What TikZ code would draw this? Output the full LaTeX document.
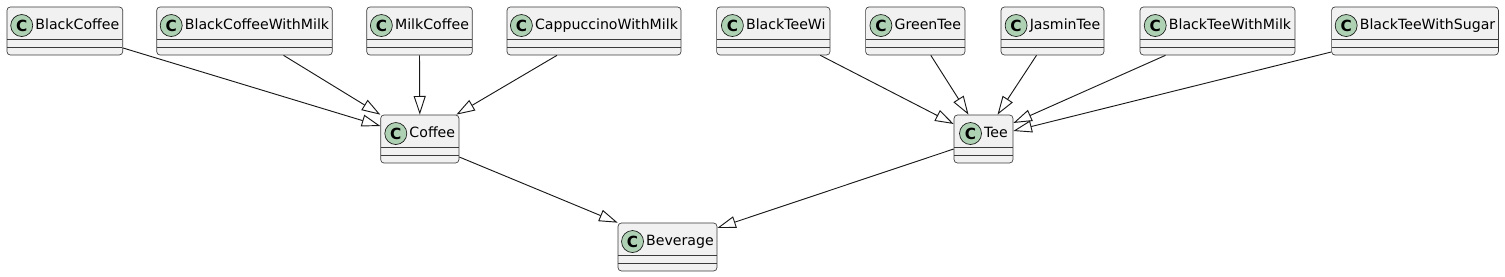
\documentclass[tikz,border=0pt]{standalone}
\usepackage{fontspec}
\setmainfont{DejaVu Sans}
\usetikzlibrary{arrows.meta,calc}
\definecolor{Ink}{HTML}{181818}
\definecolor{ClassFill}{HTML}{F1F1F1}
\definecolor{MarkGreen}{HTML}{ADD1B2}
\newcommand{\classmark}{\tikz[baseline={([yshift=-3pt]mark.center)}]\node[classmarker] (mark) {C};}
\tikzset{
  classmarker/.style={circle, draw=Ink, line width=0.5pt, fill=MarkGreen, inner sep=0pt, minimum size=16.5pt, font=\fontsize{11.5pt}{12pt}\selectfont\bfseries},
  classbox/.style={draw=Ink!85, line width=0.5pt, rounded corners=2.5pt, fill=ClassFill, inner xsep=0pt, inner ysep=0pt,
    text height=16.9pt, text depth=19.1pt, font=\fontsize{10.6pt}{12pt}\selectfont,
    path picture={
      \draw[Ink!85, line width=0.5pt] ([yshift=11.8pt]path picture bounding box.south west) -- ([yshift=11.8pt]path picture bounding box.south east);
      \draw[Ink!85, line width=0.5pt] ([yshift=5.9pt]path picture bounding box.south west) -- ([yshift=5.9pt]path picture bounding box.south east);
    }},
  extends/.style={-{Triangle[open, length=14pt, width=9pt]}, draw=Ink, line width=0.7pt}
}
\begin{document}
\begin{tikzpicture}[x=0.75pt, y=-0.75pt]
  \useasboundingbox (0,0) rectangle (1505,277);

  % coffee side
  \node[classbox, minimum width=86.8pt] (blackcoffee) at (64.85,31) {\classmark\,BlackCoffee};
  \node[classbox, minimum width=131.7pt] (blackcoffeemilk) at (244.5,31) {\classmark\,BlackCoffeeWithMilk};
  \node[classbox, minimum width=79.2pt] (milkcoffee) at (419.5,31) {\classmark\,MilkCoffee};
  \node[classbox, minimum width=130.5pt] (cappuccino) at (594,31) {\classmark\,CappuccinoWithMilk};
  \node[classbox, minimum width=58.7pt] (coffee) at (419.8,139) {\classmark\,Coffee};

  % tee side
  \node[classbox, minimum width=85pt] (blackteewi) at (773.3,31) {\classmark\,BlackTeeWi};
  \node[classbox, minimum width=74.5pt] (greentee) at (915.3,31) {\classmark\,GreenTee};
  \node[classbox, minimum width=77.2pt] (jasmintee) at (1052.5,31) {\classmark\,JasminTee};
  \node[classbox, minimum width=116.2pt] (blackteemilk) at (1217.5,31) {\classmark\,BlackTeeWithMilk};
  \node[classbox, minimum width=125.1pt] (blackteesugar) at (1415,31) {\classmark\,BlackTeeWithSugar};
  \node[classbox, minimum width=44.2pt] (tee) at (983.5,139) {\classmark\,Tee};

  \node[classbox, minimum width=74.2pt] (beverage) at (667.5,247) {\classmark\,Beverage};

  \draw[extends] ($(blackcoffee.east)+(0,17)$) -- ($(coffee.west)+(0,-13)$);
  \draw[extends] ($(blackcoffeemilk.south)+(39,0)$) -- (coffee.north west);
  \draw[extends] (milkcoffee.south) -- (coffee.north);
  \draw[extends] ($(cappuccino.south)+(-37,0)$) -- ($(coffee.north east)+(-3,0)$);
  \draw[extends] ($(coffee.east)+(0,18)$) -- (beverage.north west);

  \draw[extends] ($(blackteewi.south)+(47,0)$) -- ($(tee.west)+(0,-15)$);
  \draw[extends] ($(greentee.south)+(15.5,0)$) -- ($(tee.north)+(-15,0)$);
  \draw[extends] ($(jasmintee.south)+(-16,0)$) -- ($(tee.north)+(14,0)$);
  \draw[extends] ($(blackteemilk.south)+(-52,0)$) -- ($(tee.east)+(0,-16)$);
  \draw[extends] ($(blackteesugar.west)+(0,21)$) -- ($(tee.east)+(0,-8)$);
  \draw[extends] ($(tee.west)+(0,10)$) -- ($(beverage.east)+(0,-19)$);
\end{tikzpicture}
\end{document}
